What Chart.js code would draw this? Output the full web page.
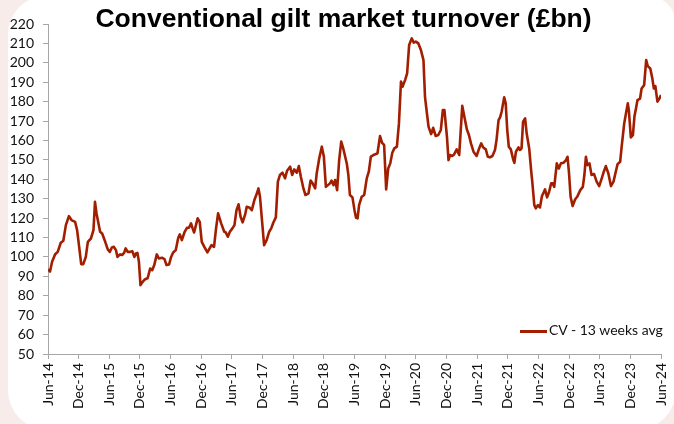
<!DOCTYPE html>
<html>
<head>
<meta charset="utf-8">
<script src="https://cdn.jsdelivr.net/npm/chart.js@4/dist/chart.umd.min.js"></script>
<style>
  html, body { margin: 0; padding: 0; }
  body { width: 674px; height: 424px; overflow: hidden; background: #f8ecea; position: relative; }
  #panel { position: absolute; left: 8px; top: -4px; width: 668px; height: 434px; background: #ffffff;
           border-radius: 38px 28px 40px 40px; }
  #wrap { position: absolute; left: 0; top: 0; width: 674px; height: 424px; }
  #title { position: absolute; left: 0; top: 5px; width: 687px; text-align: center;
           font-family: "Liberation Sans", Arial, sans-serif; font-weight: bold; font-size: 26.5px;
           line-height: 26px; color: #000; white-space: nowrap; }
  #legend { position: absolute; left: 520px; top: 321px; font-family: Lato, "Open Sans", sans-serif;
            font-size: 14px; line-height: 18px; color: #111; white-space: nowrap; }
  #legend .swatch { display: inline-block; width: 27px; height: 3px; vertical-align: middle; margin-right: 2px; }
</style>
</head>
<body>
<div id="panel"></div>
<div id="wrap"><canvas id="c" width="674" height="424"></canvas></div>
<div id="title">Conventional gilt market turnover (£bn)</div>
<div id="legend"></div>
<script>
// Tick labels for the x axis (every 6 months from Jun-14)
const tickLabels = ['Jun-14','Dec-14','Jun-15','Dec-15','Jun-16','Dec-16','Jun-17','Dec-17','Jun-18','Dec-18',
  'Jun-19','Dec-19','Jun-20','Dec-20','Jun-21','Dec-21','Jun-22','Dec-22','Jun-23','Dec-23','Jun-24'];

const seriesName = 'CV - 13 weeks avg';

// Time position of each observation, in months since Jun-14
const monthsSinceJun14 = [
  0,0.4,0.8,1.4,1.9,2.5,3.0,3.5,4.1,4.6,5.3,5.7,6.1,6.5,6.9,7.4,7.8,8.4,8.9,9.2,9.5,10.2,10.6,11.2,11.7,12.1,12.5,12.9,13.3,13.6,14.1,14.5,14.9,15.2,15.6,16.1,16.5,16.9,17.2,17.5,17.8,18.1,18.7,
  19.0,19.5,20.0,20.4,20.8,21.3,21.7,22.3,22.8,23.2,23.7,24.1,24.5,25.0,25.5,25.8,26.2,26.7,27.2,27.6,28.0,28.3,28.6,29.0,29.3,29.7,30.1,30.6,31.2,31.7,32.0,32.5,32.9,33.3,33.9,34.5,34.8,35.2,35.6,36.1,36.5,36.9,37.3,37.7,38.1,38.6,38.9,39.5,39.9,
  40.4,40.9,41.2,41.5,42.0,42.3,42.8,43.3,43.7,44.1,44.6,45.0,45.4,45.9,46.4,46.8,47.4,47.8,48.2,48.7,49.1,49.5,50.0,50.4,51.0,51.4,51.8,52.3,52.6,53.1,53.6,54.0,54.4,54.8,55.2,55.5,55.9,56.2,56.6,57.0,57.4,57.8,
  58.5,58.8,59.1,59.6,60.0,60.3,60.6,60.9,61.4,61.9,62.4,62.8,63.2,63.7,64.2,64.5,65.0,65.4,65.8,66.2,66.6,67.0,67.4,67.8,68.3,68.7,69.1,69.4,69.9,70.3,70.7,71.2,71.6,72.0,72.5,73.0,73.5,73.8,74.1,74.5,75.0,75.4,75.9,76.4,76.9,77.3,77.6,
  78.1,78.4,78.7,79.1,79.5,80.0,80.5,80.8,81.1,81.5,82.0,82.4,82.8,83.3,83.9,84.4,84.8,85.2,85.7,86.1,86.5,87.0,87.5,87.8,88.2,88.5,88.8,89.3,89.6,89.9,90.2,90.6,91.1,91.3,91.6,92.1,92.4,92.7,93.0,93.4,93.7,94.2,94.6,94.8,95.2,95.5,95.9,96.3,96.7,97.0,97.3,97.7,98.1,
  98.5,98.8,99.1,99.6,100.0,100.4,100.9,101.4,101.7,102.0,102.3,102.7,103.2,103.6,104.2,104.7,105.0,105.3,105.6,106.0,106.4,106.9,107.4,107.9,108.4,108.8,109.2,109.7,110.2,110.7,111.1,111.5,112.0,112.3,112.8,113.2,113.5,113.7,114.1,114.5,114.8,115.1,115.4,115.9,116.2,116.7,117.1,117.4,117.9,118.3,118.6,118.9,119.3,119.7,120.0
];

// Conventional gilt turnover, 13-week average (£bn)
const turnover = [
  93.5,92.5,97.5,101.4,102.6,107.3,108.3,116.4,121,119,118.1,113.8,105.2,96.3,96.3,100,107.8,109.5,113.8,128.4,122.4,113,112.1,107.8,103.9,102.6,104.9,105.2,103.5,100,101.3,101,102.1,104.4,102.6,102.6,103,100,101.8,102.1,97.5,85.5,87.7,
  88.5,89,94,93.2,95.8,101.3,99.2,99.6,98.9,95.8,96.1,100,102.3,103.5,109.9,111.6,108.7,112.6,115,115,117.3,114.7,112.6,116.8,119.9,118.1,107.8,105.2,102.3,104.7,106.1,105.2,114.7,122.5,117.3,113,112.6,110.4,113,114.7,116.4,124.1,127.1,120.7,117.8,121.9,125.8,125.3,124.1,
  129.3,132.8,135.3,131,115.5,106.1,108.7,113,114.7,117.6,120.4,138.8,142.2,143.4,140.5,144.4,146.5,142.2,145.1,143.4,146.8,141.3,135.3,131.9,132.8,139.3,137.9,135.3,143,150.8,156.8,151.7,136.1,137,137.9,139.3,137,139.6,134.4,149.9,159.4,155.9,
  148,142.2,131.9,130.7,124.1,120.2,119.9,126.7,131,131.9,140.5,143.9,151.7,152.5,153,153.4,162.3,158.8,157.7,134.8,145.6,148.2,153.7,155.9,156.8,168.8,190.3,187.7,191.1,194.6,209.2,212.6,210.4,210.9,210,206.6,201.4,182.5,175.7,167,163.3,166.5,162.3,162.8,165.4,175.7,175.7,
  161.9,149.9,152.5,152,152.8,155.4,152.5,165.4,177.8,172.3,165.7,162.8,158.5,154.2,152,155.9,158.5,156.4,155.4,151.6,151.3,152,155.1,160.2,170.5,171.9,174.8,182.2,179.1,165.4,156.8,155.4,149.9,148.5,154.2,156.4,155.1,155.9,169.7,171.4,163.7,155.9,143.9,138.8,126.7,125,126.7,125.5,131.4,133.1,134.8,130.7,133.6,
  137.9,137.9,136.1,148.2,145.6,148.2,148.5,149.9,151.6,143,131,126.2,129.7,131,134.4,136.1,142.2,151.6,147.3,148.2,142.2,142.7,138.8,136.5,140.5,143.9,146.8,143,136.5,138.8,143.4,147.8,149,156.8,168.8,174.8,179.1,175.7,161.6,162.8,172.3,176.5,180.8,181.6,186.8,188.5,201.4,198.3,197.1,192,186.8,188,180,181.6,183.4
];

const yTicks = { min: 50, max: 220, step: 10 };
const lineColor = '#a21e00';
const axisColor = '#a6a6a6';
const tickFont = { family: 'Lato, "Open Sans", sans-serif', size: 14 };

const points = monthsSinceJun14.map((m, i) => ({ x: m, y: turnover[i] }));

const chart = new Chart(document.getElementById('c'), {
  type: 'line',
  data: {
    datasets: [{
      label: seriesName,
      data: points,
      borderColor: lineColor,
      backgroundColor: lineColor,
      borderWidth: 2.6,
      pointRadius: 0,
      tension: 0,
      borderJoinStyle: 'round',
      fill: false
    }]
  },
  options: {
    responsive: false,
    animation: false,
    layout: { padding: { left: 0, right: 13, top: 24, bottom: 0 } },
    plugins: { legend: { display: false }, tooltip: { enabled: false }, title: { display: false } },
    scales: {
      x: {
        type: 'linear',
        min: 0, max: (tickLabels.length - 1) * 6,
        afterFit: (s) => { s.height = 70; s.paddingRight = 13; s.paddingLeft = 0; },
        ticks: {
          stepSize: 6, autoSkip: false, minRotation: 90, maxRotation: 90, padding: 4,
          color: '#111', font: tickFont,
          callback: (v) => tickLabels[Math.round(v / 6)]
        },
        grid: { drawOnChartArea: false, drawTicks: true, tickLength: 5, color: axisColor },
        border: { color: axisColor, width: 1 }
      },
      y: {
        min: yTicks.min, max: yTicks.max,
        afterFit: (s) => { s.width = 48; s.paddingTop = 0; s.paddingBottom = 0; },
        ticks: { stepSize: yTicks.step, autoSkip: false, padding: 9, color: '#111', font: tickFont },
        grid: { drawOnChartArea: false, drawTicks: true, tickLength: 5, color: axisColor },
        border: { color: axisColor, width: 1 }
      }
    }
  }
});

// HTML legend built from the dataset
const ds = chart.data.datasets[0];
document.getElementById('legend').innerHTML =
  '<span class="swatch" style="background:' + ds.borderColor + '"></span>' + ds.label;
</script>
</body>
</html>
